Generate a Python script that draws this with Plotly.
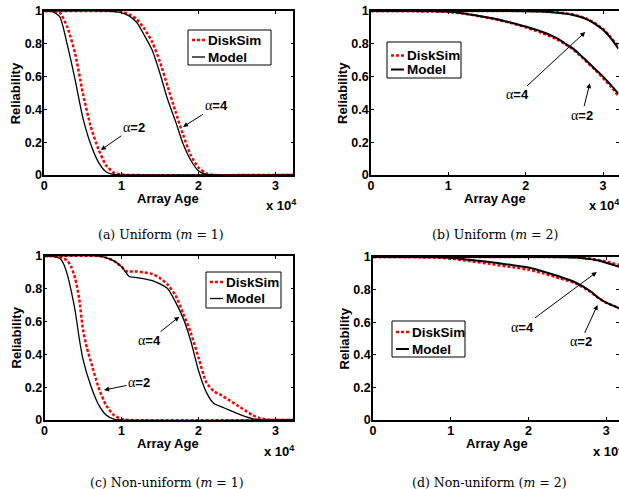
import plotly.graph_objects as go

W, H = 619, 489

# ---------------- data (array age in hours, reliability) ----------------
# (a) Uniform (m=1)
A2_MODEL_X = [0, 1000, 2000, 3000, 4000, 5000, 6000, 7000, 8000, 9000, 10000, 32300]
A2_MODEL_Y = [1, 0.998, 0.965, 0.79, 0.58, 0.35, 0.19, 0.08, 0.02, 0.003, 0, 0]
A2_SIM_X = [0, 1000, 2000, 3000, 4000, 5000, 6000, 7000, 8000, 9000, 10000, 11000, 32300]
A2_SIM_Y = [1, 1, 0.99, 0.9, 0.74, 0.5, 0.3, 0.16, 0.06, 0.015, 0.003, 0, 0]
A4_MODEL_X = [0, 8000, 9000, 10000, 11000, 12000, 13000, 14000, 15000, 16000, 17000, 18000, 19000, 20000, 21000, 22000, 32300]
A4_MODEL_Y = [1, 1, 0.997, 0.99, 0.97, 0.93, 0.85, 0.76, 0.62, 0.46, 0.33, 0.19, 0.09, 0.025, 0.004, 0, 0]
A4_SIM_X = [0, 8000, 9000, 10000, 11000, 12000, 13000, 14000, 15000, 16000, 17000, 18000, 19000, 20000, 21000, 22000, 32300]
A4_SIM_Y = [1, 1, 1, 0.995, 0.98, 0.95, 0.89, 0.81, 0.69, 0.54, 0.39, 0.245, 0.12, 0.045, 0.01, 0, 0]

# (b) Uniform (m=2)
B2_X = [0, 5000, 8000, 10000, 12000, 14000, 16000, 18000, 20000, 22000, 24000, 25000, 26000, 27000, 28000, 29000, 30000, 31000, 32000]
B2_MODEL_Y = [1, 1, 0.998, 0.995, 0.985, 0.97, 0.953, 0.93, 0.905, 0.875, 0.835, 0.805, 0.775, 0.735, 0.69, 0.645, 0.6, 0.55, 0.495]
B2_SIM_Y = [1, 1, 0.998, 0.994, 0.984, 0.968, 0.95, 0.928, 0.9, 0.868, 0.828, 0.8, 0.77, 0.73, 0.685, 0.64, 0.59, 0.54, 0.48]
B4_X = [0, 10000, 20000, 22000, 23000, 24000, 25000, 26000, 27000, 28000, 29000, 30000, 31000, 32000]
B4_MODEL_Y = [1, 1, 0.999, 0.997, 0.994, 0.99, 0.985, 0.977, 0.965, 0.948, 0.92, 0.885, 0.835, 0.77]
B4_SIM_Y = [1, 1, 1, 0.998, 0.995, 0.992, 0.987, 0.98, 0.968, 0.95, 0.925, 0.89, 0.84, 0.78]

# (c) Non-uniform (m=1)
C2_MODEL_X = [0, 1000, 2000, 2500, 3000, 3500, 4000, 4500, 5000, 6000, 7000, 8000, 9000, 10000, 32300]
C2_MODEL_Y = [1, 0.998, 0.985, 0.95, 0.88, 0.78, 0.66, 0.5, 0.37, 0.21, 0.095, 0.03, 0.005, 0, 0]
C2_SIM_X = [0, 1000, 2000, 3000, 3500, 4000, 4500, 5000, 5500, 6000, 7000, 8000, 9000, 10000, 11000, 32300]
C2_SIM_Y = [1, 1, 0.995, 0.97, 0.93, 0.86, 0.74, 0.55, 0.44, 0.36, 0.2, 0.09, 0.03, 0.006, 0, 0]
C4_MODEL_X = [0, 7000, 8000, 9000, 10000, 11000, 12000, 13000, 14000, 15000, 16000, 17000, 18000, 19000, 20000, 21000, 22000, 23000, 24000, 25000, 26000, 27000, 28000, 32300]
C4_MODEL_Y = [1, 1, 0.99, 0.97, 0.935, 0.875, 0.868, 0.86, 0.85, 0.83, 0.8, 0.72, 0.62, 0.48, 0.3, 0.17, 0.1, 0.08, 0.06, 0.04, 0.022, 0.008, 0, 0]
C4_SIM_X = [0, 7000, 8000, 9000, 10000, 10500, 11000, 12000, 13000, 14000, 15000, 16000, 17000, 18000, 19000, 20000, 21000, 22000, 23000, 24000, 25000, 26000, 27000, 28000, 29000, 30000, 32300]
C4_SIM_Y = [1, 1, 0.99, 0.97, 0.935, 0.91, 0.905, 0.905, 0.9, 0.89, 0.865, 0.825, 0.76, 0.65, 0.53, 0.38, 0.23, 0.175, 0.15, 0.12, 0.09, 0.06, 0.03, 0.01, 0.002, 0, 0]

# (d) Non-uniform (m=2)
D2_X = [0, 5000, 8000, 10000, 12000, 15000, 18000, 20000, 22000, 24000, 26000, 28000, 29000, 30000, 31000, 31660]
D2_MODEL_Y = [1, 1, 0.998, 0.995, 0.985, 0.97, 0.95, 0.935, 0.91, 0.88, 0.845, 0.79, 0.75, 0.72, 0.7, 0.685]
D2_SIM_Y = [1, 1, 0.997, 0.99, 0.978, 0.958, 0.937, 0.922, 0.898, 0.87, 0.84, 0.785, 0.748, 0.72, 0.7, 0.685]
D4_X = [0, 20000, 25000, 26000, 27000, 28000, 29000, 30000, 31000, 31660]
D4_MODEL_Y = [1, 1, 0.999, 0.997, 0.993, 0.987, 0.978, 0.965, 0.95, 0.94]
D4_SIM_Y = [1, 1, 1, 0.998, 0.995, 0.99, 0.982, 0.972, 0.96, 0.952]

X_TICKS = [0, 10000, 20000, 30000]
X_TICKTEXT = ["0", "1", "2", "3"]
Y_TICKS = [0, 0.2, 0.4, 0.6, 0.8, 1]
Y_TICKTEXT = ["0", "0.2", "0.4", "0.6", "0.8", "1"]
SERIES = ["DiskSim", "Model"]
X_TITLE = "Array Age"
Y_TITLE = "Reliability"
CAPTIONS = ["(a) Uniform (<i>m</i> = 1)", "(b) Uniform (<i>m</i> = 2)",
            "(c) Non-uniform (<i>m</i> = 1)", "(d) Non-uniform (<i>m</i> = 2)"]

# ---------------- styling helpers ----------------
SANS = "Liberation Sans"
SERIF = "DejaVu Serif"
RED = "#ff0000"


def px(x):
    return x / W


def py(y):
    return 1 - y / H


fig = go.Figure()

panels = [
    ("", [(A2_SIM_X, A2_SIM_Y, A2_MODEL_X, A2_MODEL_Y), (A4_SIM_X, A4_SIM_Y, A4_MODEL_X, A4_MODEL_Y)], 1.3),
    ("2", [(B2_X, B2_SIM_Y, B2_X, B2_MODEL_Y), (B4_X, B4_SIM_Y, B4_X, B4_MODEL_Y)], 2.0),
    ("3", [(C2_SIM_X, C2_SIM_Y, C2_MODEL_X, C2_MODEL_Y), (C4_SIM_X, C4_SIM_Y, C4_MODEL_X, C4_MODEL_Y)], 1.3),
    ("4", [(D2_X, D2_SIM_Y, D2_X, D2_MODEL_Y), (D4_X, D4_SIM_Y, D4_X, D4_MODEL_Y)], 2.0),
]

for suf, curves, mw in panels:
    for sx, sy, mx, my in curves:
        fig.add_trace(go.Scatter(x=sx, y=sy, mode="lines", name=SERIES[0], showlegend=False,
                                 xaxis="x" + suf, yaxis="y" + suf,
                                 line=dict(color=RED, width=2.5, dash="3px,2px", shape="spline", smoothing=0.6)))
        fig.add_trace(go.Scatter(x=mx, y=my, mode="lines", name=SERIES[1], showlegend=False,
                                 xaxis="x" + suf, yaxis="y" + suf,
                                 line=dict(color="black", width=mw, shape="spline", smoothing=0.6)))

# panel geometry in pixels: left, right, top, bottom, xmax, title center x
geom = [
    (44.3, 293.3, 11, 175, 32300, 168),
    (371, 618.5, 11, 175, 32000, 495),
    (44.5, 293.3, 256, 420, 32300, 168),
    (373, 619, 257, 420, 31660, 497),
]

tickfont = dict(family=SANS, size=12.5, color="black", weight="bold")
titlefont = dict(family=SANS, size=13, color="black", weight="bold")

layout = dict(width=W, height=H, margin=dict(l=0, r=0, t=0, b=0, autoexpand=False),
              paper_bgcolor="white", plot_bgcolor="white", showlegend=False)
for i, (l, r, t, b, xmax, tc) in enumerate(geom):
    suf = "" if i == 0 else str(i + 1)
    layout["xaxis" + suf] = dict(domain=[px(l), px(r)], range=[0, xmax], anchor="y" + suf,
                                 automargin=False, ticklabelstandoff=-2,
                                 tickvals=X_TICKS, ticktext=X_TICKTEXT, tickfont=tickfont,
                                 showgrid=False, zeroline=False, showline=True, linecolor="black",
                                 linewidth=1.5, mirror="ticks", ticks="inside", ticklen=3,
                                 tickcolor="black")
    layout["yaxis" + suf] = dict(domain=[py(b), py(t)], range=[0, 1], anchor="x" + suf,
                                 automargin=False, ticklabelstandoff=-2,
                                 tickvals=Y_TICKS, ticktext=Y_TICKTEXT, tickfont=tickfont,
                                 showgrid=False, zeroline=False, showline=True, linecolor="black",
                                 linewidth=1.5, mirror="ticks", ticks="inside", ticklen=3,
                                 tickcolor="black")
fig.update_layout(**layout)

annotations = []
shapes = []

# axis titles per panel
for (l, r, t, b, xmax, tc) in geom:
    annotations.append(dict(xref="paper", yref="paper", x=px(tc), y=py(b + 23),
                            xanchor="center", yanchor="middle", text=X_TITLE,
                            showarrow=False, font=titlefont))
    annotations.append(dict(xref="paper", yref="paper", x=px(l - 29), y=py((t + b) / 2),
                            xanchor="center", yanchor="middle", text=Y_TITLE, textangle=-90,
                            showarrow=False, font=titlefont))

# x 10^4 exponent labels (left px, center y px)
for xl, yc in [(264, 205), (587, 205), (262, 451), (591, 451)]:
    annotations.append(dict(xref="paper", yref="paper", x=px(xl), y=py(yc), xanchor="left", yanchor="middle",
                            text="x 10<sup>4</sup>", showarrow=False, font=titlefont))

# captions
for (cx, cy), cap in zip([(161, 235), (495, 235), (167, 482), (489, 482)], CAPTIONS):
    annotations.append(dict(xref="paper", yref="paper", x=px(cx), y=py(cy), xanchor="center", yanchor="middle",
                            text=cap, showarrow=False,
                            font=dict(family=SERIF, size=12.5, color="black")))

# alpha labels with arrows: axis suffix, head x, head y, ax, ay, label
ALPHA = "<span style='font-family:Liberation Serif;font-weight:normal;font-size:14px'>α</span>="
arrows = [
    ("", 7330, 0.152, 33, -23, "2"),
    ("", 18000, 0.293, 33, -21, "4"),
    ("2", 27700, 0.872, -68, 63, "4"),
    ("2", 28300, 0.56, -8, 32, "2"),
    ("3", 17500, 0.63, -30, 24, "4"),
    ("3", 7730, 0.183, 35, -7, "2"),
    ("4", 28800, 0.908, -74, 55, "4"),
    ("4", 28900, 0.706, -17, 37, "2"),
]
for suf, hx, hy, ax, ay, lab in arrows:
    annotations.append(dict(xref="x" + suf, yref="y" + suf, x=hx, y=hy, ax=ax, ay=ay,
                            text=ALPHA + lab, showarrow=True, arrowhead=2, arrowsize=1,
                            arrowwidth=1, arrowcolor="black", standoff=0,
                            font=dict(family=SANS, size=13, color="black", weight="bold")))

# legends drawn as boxes: left, top, right, bottom, row1 y, row2 y, model width
legends = [
    (188, 30, 271, 65, 40, 57, 1.3),
    (387, 42, 461, 78, 55.5, 69.5, 2.0),
    (206, 272, 281, 308, 282, 298.5, 1.3),
    (392, 321, 465, 357, 332, 349, 2.0),
]
for l, t, r, b, r1, r2, mw in legends:
    shapes.append(dict(type="rect", xref="paper", yref="paper", x0=px(l), x1=px(r), y0=py(b), y1=py(t),
                       line=dict(color="black", width=1), fillcolor="white", layer="above"))
    shapes.append(dict(type="line", xref="paper", yref="paper", x0=px(l + 4), x1=px(l + 17), y0=py(r1), y1=py(r1),
                       line=dict(color=RED, width=2.5, dash="3px,2px"), layer="above"))
    shapes.append(dict(type="line", xref="paper", yref="paper", x0=px(l + 4), x1=px(l + 17), y0=py(r2), y1=py(r2),
                       line=dict(color="black", width=mw), layer="above"))
    for ry, name in [(r1, SERIES[0]), (r2, SERIES[1])]:
        annotations.append(dict(xref="paper", yref="paper", x=px(l + 18), y=py(ry), xanchor="left",
                                yanchor="middle", text=name, showarrow=False,
                                font=dict(family=SANS, size=13.5, color="black", weight="bold")))

fig.update_layout(annotations=annotations, shapes=shapes)
fig.write_html("out.html", config={"displayModeBar": False},
               post_script="document.body.style.margin='0';document.body.style.padding='0';"
                           "document.body.style.overflow='hidden';")
